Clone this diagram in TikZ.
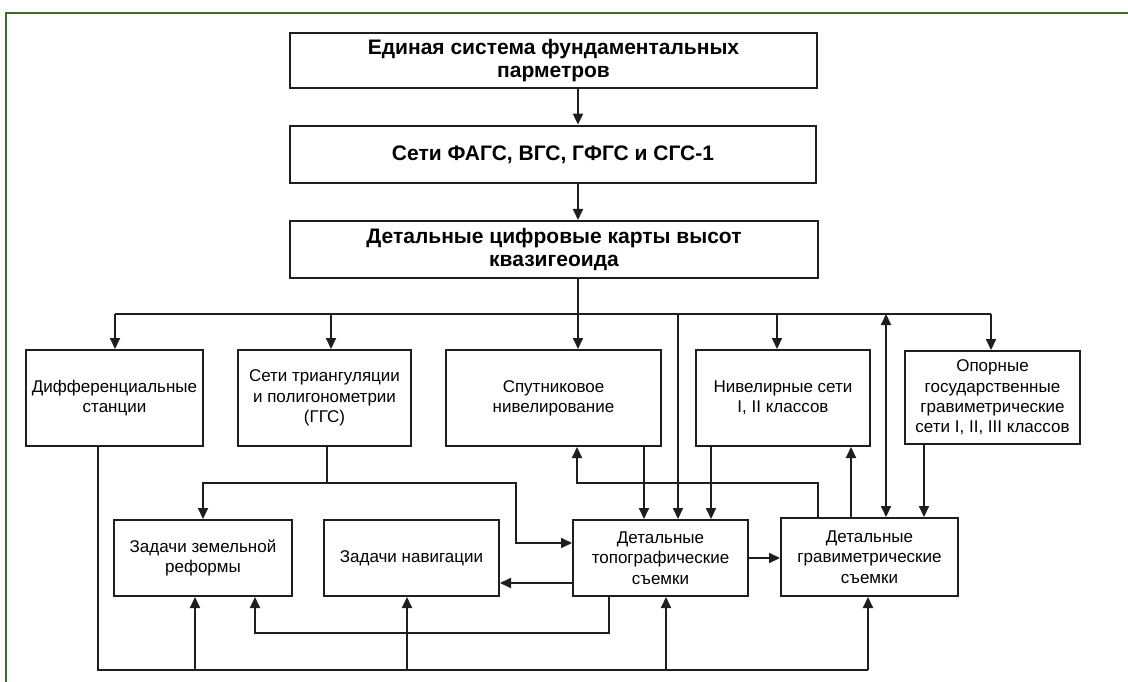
\documentclass[tikz,border=0pt]{standalone}
\usepackage{fontspec}
\setmainfont{Liberation Sans}
\usepackage{tikz}
\usetikzlibrary{arrows.meta, positioning, calc}
\definecolor{framegreen}{RGB}{58,112,38}
\definecolor{ink}{RGB}{30,30,30}

\begin{document}
\begin{tikzpicture}[x=1pt, y=-1pt,
    box/.style={draw=ink, line width=2pt, inner sep=0pt, align=center,
        font=\fontsize{17}{20.3}\selectfont},
    topbox/.style={box, font=\fontsize{21}{23.5}\selectfont\bfseries},
    link/.style={draw=ink, line width=2pt},
    arr/.style={link, -{Triangle[length=11pt,width=10pt]}},
    arrs/.style={link, {Triangle[length=11pt,width=10pt]}-{Triangle[length=11pt,width=10pt]}}]
\useasboundingbox (0,0) rectangle (1128,682);
% === frame ===
\draw[framegreen, line width=2.6pt] (6,682) -- (6,13) -- (1128,13);
% === top chain ===
\node[topbox, minimum width=527pt, minimum height=55pt] (fund) at (553.5,60.5)
    {Единая система фундаментальных\\парметров};
\node[topbox, line width=2.8pt, minimum width=526pt, minimum height=57pt] (seti) at (553,154.5)
    {Сети ФАГС, ВГС, ГФГС и СГС-1};
\node[topbox, minimum width=528pt, minimum height=57pt] (kvaz) at (554,249.5)
    {Детальные цифровые карты высот\\квазигеоида};
% === second row ===
\node[box, minimum width=177pt, minimum height=96pt] (diff) at (114.5,398)
    {Дифференциальные\\станции};
\node[box, minimum width=173pt, minimum height=96pt] (trian) at (324.5,398)
    {Сети триангуляции\\и полигонометрии\\(ГГС)};
\node[box, minimum width=215pt, minimum height=96pt] (sput) at (553.5,398)
    {Спутниковое\\нивелирование};
\node[box, minimum width=174pt, minimum height=96pt] (nivel) at (783,398)
    {Нивелирные сети\\I, II классов};
\node[box, minimum width=175pt, minimum height=93pt] (opor) at (992.5,397.5)
    {Опорные\\государственные\\гравиметрические\\сети I, II, III классов};
% === third row ===
\node[box, minimum width=178pt, minimum height=76pt] (zem) at (203,558)
    {Задачи земельной\\реформы};
\node[box, minimum width=175pt, minimum height=76pt] (nav) at (411.5,558)
    {Задачи навигации};
\node[box, minimum width=175pt, minimum height=76pt] (topo) at (660.5,558)
    {Детальные\\топографические\\съемки};
\node[box, minimum width=177pt, minimum height=78pt] (grav) at (869.5,557)
    {Детальные\\гравиметрические\\съемки};
% === bus coordinates ===
\coordinate (spine) at (578,0);
\coordinate (b1) at (115,314);
\coordinate (b2) at (331,314);
\coordinate (b3) at (578,314);
\coordinate (b4) at (678,314);
\coordinate (b5) at (777,314);
\coordinate (b6) at (886,314);
\coordinate (b7) at (991,314);
\coordinate (q0) at (98,670);
\coordinate (q1) at (195,670);
\coordinate (q2) at (407,670);
\coordinate (q3) at (666,670);
\coordinate (q4) at (868,670);
\coordinate (t1) at (327,483);
\coordinate (t2) at (516,483);
\coordinate (t3) at (516,543);
\coordinate (r1) at (609,633);
\coordinate (r2) at (255,633);
\coordinate (g1) at (818,483);
\coordinate (g2) at (577,483);
% === connectors ===
\draw[arr] (fund.south -| spine) -- (seti.north -| spine);
\draw[arr] (seti.south -| spine) -- (kvaz.north -| spine);
\draw[link] (kvaz.south -| spine) -- (b3);
\draw[link] (b1) -- (b7);
\draw[arr] (b1) -- (diff.north -| b1);
\draw[arr] (b2) -- (trian.north -| b2);
\draw[arr] (b3) -- (sput.north -| b3);
\draw[arr] (b4) -- (topo.north -| b4);
\draw[arr] (b5) -- (nivel.north -| b5);
\draw[arrs] (b6) -- (grav.north -| b6);
\draw[arr] (b7) -- (opor.north -| b7);
% bottom bus
\draw[link] (diff.south -| q0) -- (q0) -- (q4);
\draw[arr] (q1) -- (zem.south -| q1);
\draw[arr] (q2) -- (nav.south -| q2);
\draw[arr] (q3) -- (topo.south -| q3);
\draw[arr] (q4) -- (grav.south -| q4);
% triangulation
\draw[link] (trian.south -| t1) -- (t1);
\draw[arr] (t1) -| (zem.north);
\draw[arr] (t1) -- (t2) -- (t3) -- (topo.west |- t3);
% topo links
\draw[arr] ([yshift=-25pt]topo.west) -- ([yshift=-25pt]topo.west -| nav.east);
\draw[arr] (topo.south -| r1) -- (r1) -- (r2) -- (zem.south -| r2);
\draw[arr] (sput.south -| 644,0) -- (topo.north -| 644,0);
\draw[arr] (nivel.south -| 711,0) -- (topo.north -| 711,0);
\draw[arr] (topo.east) -- (topo.east -| grav.west);
% grav links
\draw[arr] (grav.north -| g1) -- (g1) -- (g2) -- (sput.south -| g2);
\draw[arr] (grav.north -| 851,0) -- (nivel.south -| 851,0);
\draw[arr] (opor.south -| 924,0) -- (grav.north -| 924,0);
\end{tikzpicture}
\end{document}
